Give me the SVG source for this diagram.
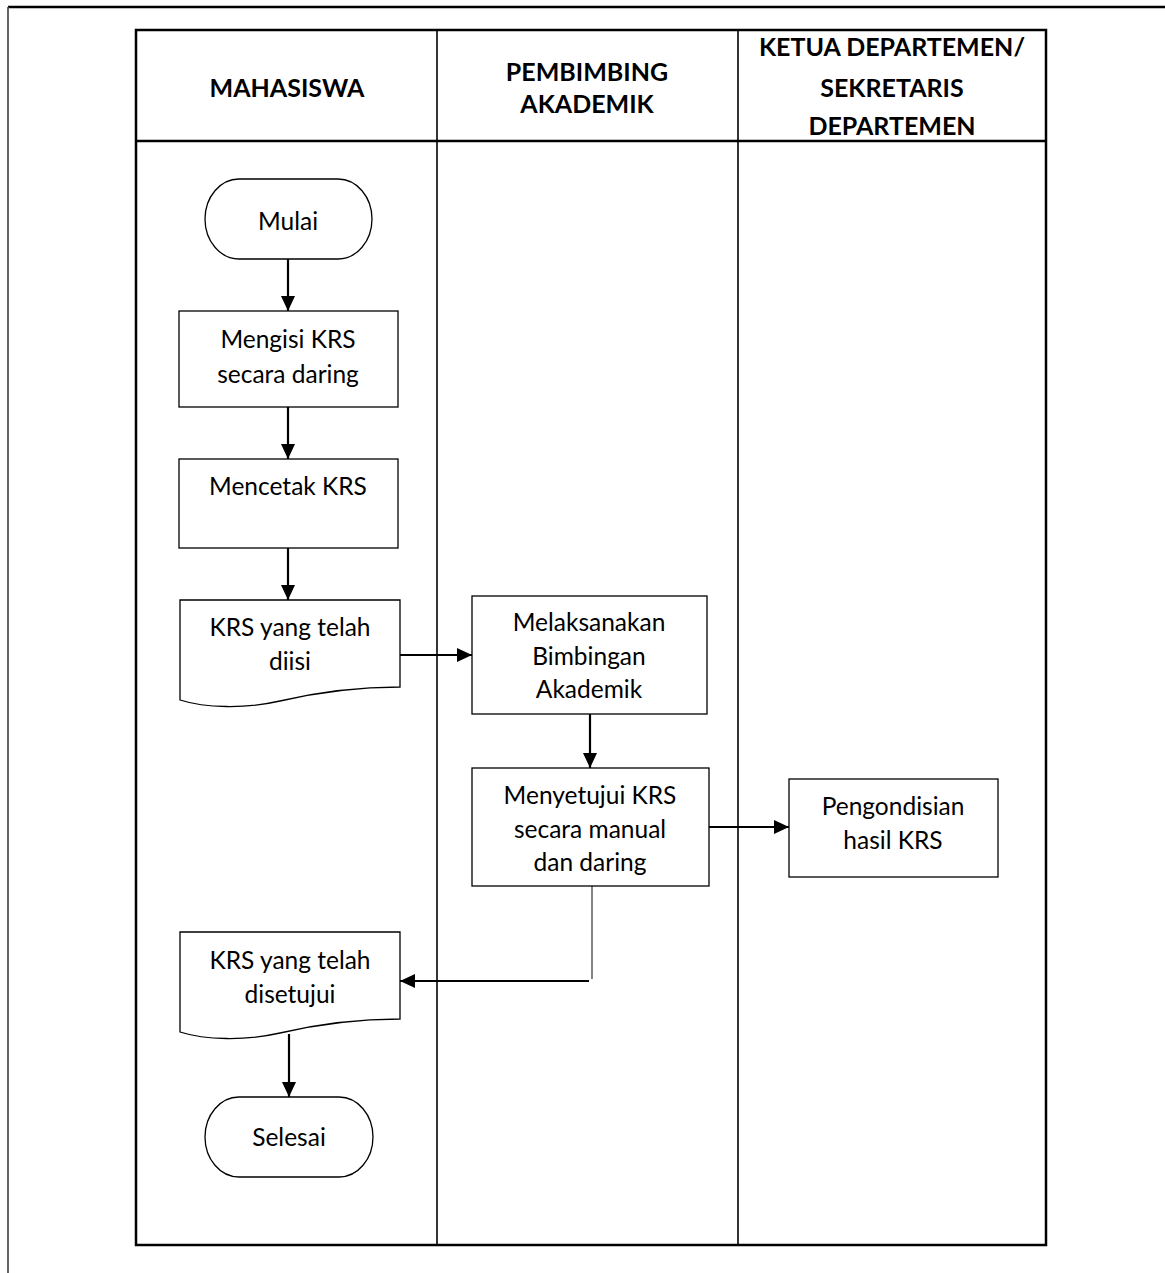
<svg xmlns="http://www.w3.org/2000/svg" width="1165" height="1273" viewBox="0 0 1165 1273">
<style>
.frame{fill:none;stroke:#000;stroke-width:2.5}
.lane{fill:none;stroke:#000;stroke-width:1.6}
.shape{fill:#fff;stroke:#000;stroke-width:1.3}
.hd{font-family:Lato,"Liberation Sans",sans-serif;font-weight:bold;font-size:25px;text-anchor:middle;fill:#000}
.tx{font-family:Lato,"Liberation Sans",sans-serif;font-size:24.5px;text-anchor:middle;fill:#000}
.arrow{fill:none;stroke:#000;stroke-width:2.2;marker-end:url(#ah)}
.thin{fill:none;stroke:#333;stroke-width:1.2}
</style>
<defs>
<marker id="ah" markerUnits="userSpaceOnUse" markerWidth="16" markerHeight="14" refX="15" refY="7" orient="auto">
<path d="M0,0 L15,7 L0,14 Z" fill="#000"/>
</marker>
</defs>
<rect width="1165" height="1273" fill="#fff"/>
<g id="page-border">
<line x1="8" y1="7" x2="1165" y2="7" stroke="#000" stroke-width="2.5"/>
<line x1="8" y1="7" x2="8" y2="1273" stroke="#555" stroke-width="1.8"/>
</g>
<g id="swimlanes">
<rect x="136" y="30" width="910" height="1215" class="frame"/>
<line x1="136" y1="141" x2="1046" y2="141" stroke="#000" stroke-width="2.5"/>
<line x1="437" y1="30" x2="437" y2="1245" class="lane"/>
<line x1="738" y1="30" x2="738" y2="1245" class="lane"/>
<text class="hd" x="287" y="97">MAHASISWA</text>
<text class="hd" x="587" y="81">PEMBIMBING</text>
<text class="hd" x="587" y="113">AKADEMIK</text>
<text class="hd" x="892" y="56">KETUA DEPARTEMEN/</text>
<text class="hd" x="892" y="97">SEKRETARIS</text>
<text class="hd" x="892" y="135">DEPARTEMEN</text>
</g>
<g id="connectors">
<line x1="288" y1="259" x2="288" y2="311" class="arrow"/>
<line x1="288" y1="407" x2="288" y2="459" class="arrow"/>
<line x1="288" y1="548" x2="288" y2="600" class="arrow"/>
<line x1="400" y1="655" x2="472" y2="655" class="arrow"/>
<line x1="590" y1="714" x2="590" y2="768" class="arrow"/>
<line x1="709" y1="827" x2="789" y2="827" class="arrow"/>
<line x1="592" y1="886" x2="592" y2="979" class="thin"/>
<line x1="589" y1="981" x2="400" y2="981" class="arrow"/>
<line x1="289" y1="1034" x2="289" y2="1097" class="arrow"/>
</g>
<g id="mulai">
<rect x="205" y="179" width="167" height="80" rx="34" ry="40" class="shape"/>
<text class="tx" x="288" y="230">Mulai</text>
</g>
<g id="mengisi">
<rect x="179" y="311" width="219" height="96" class="shape"/>
<text class="tx" x="288" y="348">Mengisi KRS</text>
<text class="tx" x="288" y="383">secara daring</text>
</g>
<g id="mencetak">
<rect x="179" y="459" width="219" height="89" class="shape"/>
<text class="tx" x="288" y="495">Mencetak KRS</text>
</g>
<g id="krs-diisi">
<path d="M180,600 H400 V687 C350,687 310,694 280,701 C245,709 205,708 180,700 Z" class="shape"/>
<text class="tx" x="290" y="636">KRS yang telah</text>
<text class="tx" x="290" y="670">diisi</text>
</g>
<g id="melaksanakan">
<rect x="472" y="596" width="235" height="118" class="shape"/>
<text class="tx" x="589" y="631">Melaksanakan</text>
<text class="tx" x="589" y="665">Bimbingan</text>
<text class="tx" x="589" y="698">Akademik</text>
</g>
<g id="menyetujui">
<rect x="472" y="768" width="237" height="118" class="shape"/>
<text class="tx" x="590" y="804">Menyetujui KRS</text>
<text class="tx" x="590" y="838">secara manual</text>
<text class="tx" x="590" y="871">dan daring</text>
</g>
<g id="pengondisian">
<rect x="789" y="779" width="209" height="98" class="shape"/>
<text class="tx" x="893" y="815">Pengondisian</text>
<text class="tx" x="893" y="849">hasil KRS</text>
</g>
<g id="krs-disetujui">
<path d="M180,932 H400 V1019 C350,1019 310,1026 280,1033 C245,1041 205,1040 180,1032 Z" class="shape"/>
<text class="tx" x="290" y="969">KRS yang telah</text>
<text class="tx" x="290" y="1003">disetujui</text>
</g>
<g id="selesai">
<rect x="205" y="1097" width="168" height="80" rx="34" ry="40" class="shape"/>
<text class="tx" x="289" y="1146">Selesai</text>
</g>
</svg>
